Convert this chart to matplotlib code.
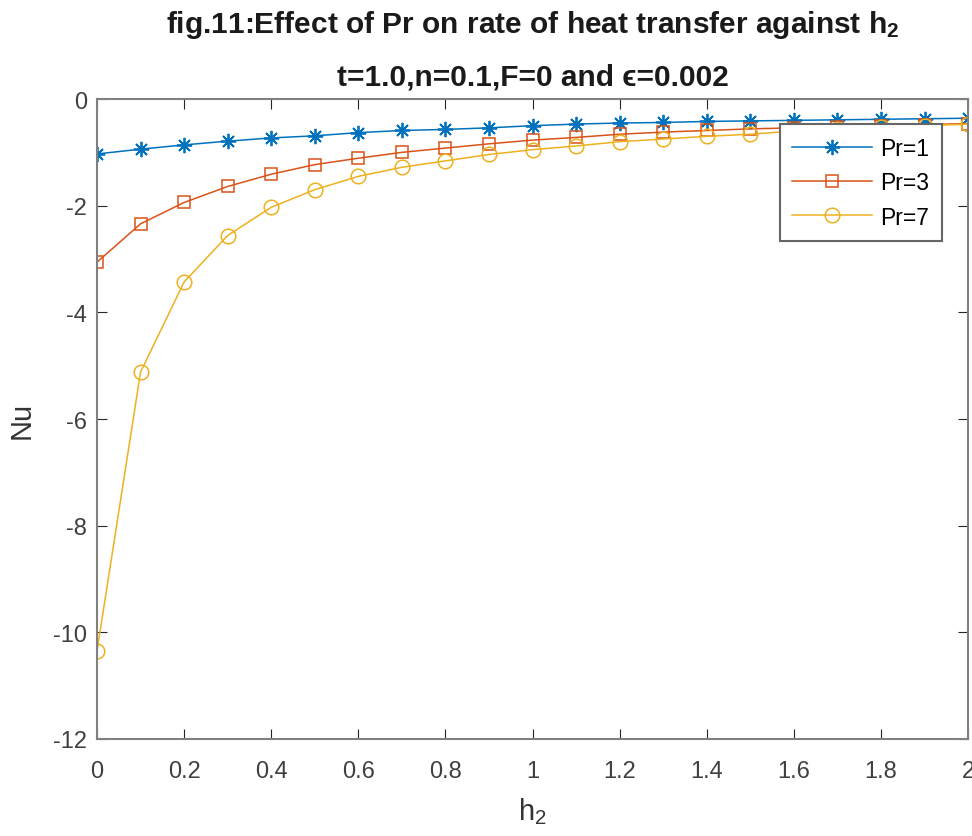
import numpy as np
import matplotlib.pyplot as plt

plt.rcParams['font.family'] = ['Liberation Sans', 'DejaVu Sans']
plt.rcParams['axes.unicode_minus'] = False
plt.rcParams['mathtext.fontset'] = 'custom'
plt.rcParams['mathtext.rm'] = 'Liberation Sans'
plt.rcParams['mathtext.it'] = 'Liberation Sans'
plt.rcParams['mathtext.bf'] = 'Liberation Sans:bold'

h2 = [0.0, 0.1, 0.2, 0.3, 0.4, 0.5, 0.6, 0.7, 0.8, 0.9, 1.0,
      1.1, 1.2, 1.3, 1.4, 1.5, 1.6, 1.7, 1.8, 1.9, 2.0]
nu_pr1 = [-1.03, -0.94, -0.86, -0.79, -0.73, -0.69, -0.63, -0.59, -0.57, -0.54, -0.50,
          -0.47, -0.45, -0.44, -0.42, -0.41, -0.40, -0.39, -0.38, -0.37, -0.36]
nu_pr3 = [-3.06, -2.34, -1.94, -1.64, -1.41, -1.23, -1.11, -1.00, -0.92, -0.84, -0.77,
          -0.72, -0.66, -0.62, -0.59, -0.56, -0.54, -0.52, -0.50, -0.48, -0.46]
nu_pr7 = [-10.35, -5.12, -3.43, -2.56, -2.03, -1.70, -1.45, -1.28, -1.16, -1.04, -0.95,
          -0.88, -0.80, -0.75, -0.70, -0.66, -0.60, -0.56, -0.53, -0.50, -0.47]
labels = ['Pr=1', 'Pr=3', 'Pr=7']

fig = plt.figure(figsize=(9.72, 8.37), dpi=100)
ax = fig.add_axes([0.0998, 0.1159, 0.8962, 0.7646])

ax.plot(h2, nu_pr1, '-', marker=(8, 2, 0), color='#0072BD', lw=1.1, ms=11, mew=1.3, label=labels[0])
ax.plot(h2, nu_pr3, '-s', color='#D95319', lw=1.1, ms=8, mfc='none', mew=1.1, label=labels[1])
ax.plot(h2, nu_pr7, '-o', color='#EDB120', lw=1.1, ms=10.5, mfc='none', mew=1.1, label=labels[2])

ax.set_xlim(0, 2)
ax.set_ylim(-12, 0)
ax.set_xticks(np.arange(0, 2.01, 0.2))
ax.set_xticklabels(['0', '0.2', '0.4', '0.6', '0.8', '1', '1.2', '1.4', '1.6', '1.8', '2'])
ax.set_yticks(range(-12, 1, 2))
ax.tick_params(direction='in', top=True, right=True, labelsize=17, length=7,
               color='#262626', labelcolor='#404040')
ax.tick_params(axis='x', pad=15)
ax.tick_params(axis='y', pad=7)
for s in ax.spines.values():
    s.set_color('#808080')
    s.set_linewidth(1.5)

ax.set_xlabel('h$_2$', fontsize=21, color='#333333')
ax.xaxis.set_label_coords(0.5, -0.088)
ax.set_ylabel('Nu', fontsize=21, color='#333333')
ax.yaxis.set_label_coords(-0.071, 0.5)

# two title lines placed separately
fig.text(0.5478, 1 - 33 / 837, r'fig.11:Effect of Pr on rate of heat transfer against h$_\mathbf{2}$',
         ha='center', va='baseline', fontsize=21.5, fontweight='bold', color='#1a1a1a')
fig.text(0.5478, 1 - 85 / 837, 't=1.0,n=0.1,F=0 and \u03f5=0.002',
         ha='center', va='baseline', fontsize=21.5, fontweight='bold', color='#1a1a1a')

leg = ax.legend(loc='upper right', bbox_to_anchor=(0.970, 0.961), fontsize=16.5,
                fancybox=False, edgecolor='#666666', framealpha=1, borderaxespad=0,
                handlelength=3.5, borderpad=0.55, labelspacing=0.5, handletextpad=0.35)
leg.get_frame().set_linewidth(1.5)

fig.savefig('out.png', dpi=100)
